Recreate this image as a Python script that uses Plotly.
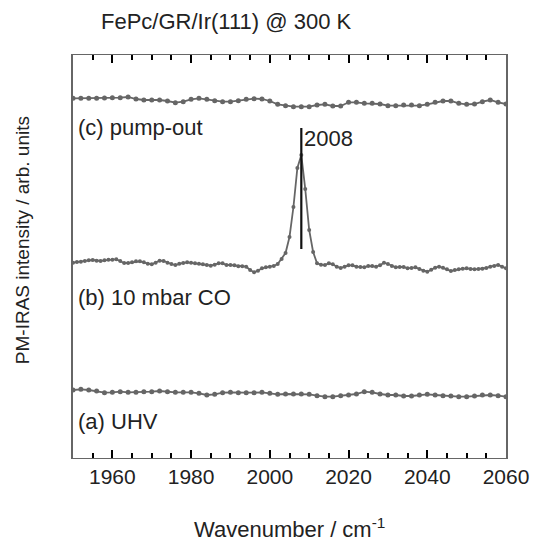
import plotly.graph_objects as go

# Wavenumber grids (cm^-1)
wn_coarse = list(range(1950, 2061, 2))
wn_fine = list(range(1950, 2061, 1))

# (a) UHV
uhv = [8, 8.7, 8, 7, 5.3, 5.7, 6.3, 5.7, 5.7, 6.3, 6.3, 7, 6.3, 5.7, 5.7, 5.7, 4.7, 3, 3.7, 5.3,
       5.7, 5.3, 5.3, 5.3, 5.7, 4.7, 3.7, 4, 4, 4, 3.7, 2.3, 1.3, 1.3, 2.3, 3, 4, 6.3,
       5.7, 4, 3, 3, 2, 2, 3, 3.7, 3, 2.3, 2, 1.3, 1.3, 2, 3, 3, 2.3, 1.3]

# (b) 10 mbar CO
co_10mbar = [5.3, 6, 6.3, 7, 7.7, 8, 7.3, 7, 7.7, 8.3, 8.3, 8.7, 7, 5, 5, 5.7, 6.7, 6.7, 5.7, 4.3,
             3.7, 5.3, 7.3, 7, 5.3, 4, 3, 4.3, 5, 5.7, 5.3, 4.7, 4.3, 3.7, 3, 2.3, 3.3, 4.7, 4.7, 3,
             3, 2.7, 1.7, 1.7, 1.3, -2, -4.3, -2.7, -0.3, 0.7, 1.3, 2, 4, 9,
             15, 31, 61, 100, 113, 79, 38, 16,
             4.7, 3.3, 3, 4.7, 3.7, 1.3, 0, 1.3, 2.7, 2.7, 1.3, 1, 0.7, 2, 2, 1.3, 2.7, 5.3, 4, 2,
             0.7, 1, 1, -0.3, 0, 0.7, -1, -2.7, -3.7, -1.7, 0.3, 1.3, 0.3, -1.3, -3, -2, -1.3, -0.7,
             -0.3, -1, -1.3, -1, -0.7, 0, 1.3, 2, 3, 1.3, -0.3]

# (c) pump-out
pump_out = [9.7, 9.7, 9.7, 9.7, 10, 10.3, 10.3, 11, 9, 8, 8, 8, 7, 5.3, 6.3, 8.7, 9.7, 8.7, 7.3, 6.3,
            6.3, 7.3, 8.7, 9.3, 9, 7, 3.7, 2.3, 1.3, 1.3, 1.3, 3, 3.7, 2, 2, 5.7, 5.7, 4.7, 4.7, 4,
            2.3, 2.3, 3, 3, 2.3, 3.7, 5.7, 7, 7, 4.7, 3.7, 4, 6.3, 8, 5.7, 4]

# vertical stacking offsets
offsets = {"a": 60, "b": 190, "c": 350}

peak_pos = 2008
peak_marker_range = [209, 330]

labels = {"a": "(a) UHV", "b": "(b) 10 mbar CO", "c": "(c) pump-out"}
label_y = {"a": 37, "b": 161, "c": 331}

x_range = [1950, 2060]
y_range = [0, 403]

trace_color = "#666666"
text_color = "#222222"
tick_color = "#000000"
frame_color = "#666666"
font_family = "Liberation Sans, Arial, sans-serif"

fig = go.Figure()


def add_spectrum(x, y, off, size):
    fig.add_trace(go.Scatter(
        x=x, y=[v + off for v in y], mode="lines+markers",
        line=dict(color=trace_color, width=1.8),
        marker=dict(color=trace_color, size=size),
        showlegend=False, hoverinfo="skip"))


add_spectrum(wn_coarse, uhv, offsets["a"], 5)
add_spectrum(wn_fine, co_10mbar, offsets["b"], 4)
add_spectrum(wn_coarse, pump_out, offsets["c"], 5)

# peak position marker
fig.add_trace(go.Scatter(
    x=[peak_pos, peak_pos], y=peak_marker_range, mode="lines",
    line=dict(color="#111111", width=2.2), showlegend=False, hoverinfo="skip"))

fig.add_annotation(x=peak_pos + 0.3, y=peak_marker_range[1] - 10, xref="x", yref="y",
                   text=str(peak_pos), showarrow=False, xanchor="left", yanchor="middle",
                   font=dict(size=22, color=text_color, family=font_family))

for k in ("a", "b", "c"):
    fig.add_annotation(x=1950.8, y=label_y[k], xref="x", yref="y", text=labels[k],
                       showarrow=False, xanchor="left", yanchor="middle",
                       font=dict(size=22, color=text_color, family=font_family))

# title and axis titles
fig.add_annotation(x=0.061, y=1.082, xref="paper", yref="paper",
                   text="FePc/GR/Ir(111) @ 300 K", showarrow=False,
                   xanchor="left", yanchor="middle",
                   font=dict(size=22, color=text_color, family=font_family))
fig.add_annotation(x=0.5, y=-0.174, xref="paper", yref="paper",
                   text="Wavenumber / cm<sup>-1</sup>", showarrow=False,
                   xanchor="center", yanchor="middle",
                   font=dict(size=22, color=text_color, family=font_family))
fig.add_annotation(x=-0.115, y=0.541, xref="paper", yref="paper",
                   text="PM-IRAS intensity / arb. units", showarrow=False, textangle=-90,
                   xanchor="center", yanchor="middle",
                   font=dict(size=19, color=text_color, family=font_family))

fig.update_layout(
    width=541, height=546, margin=dict(l=73, r=26, t=55, b=88),
    plot_bgcolor="white", paper_bgcolor="white",
    xaxis=dict(range=x_range, dtick=20, ticks="inside", ticklen=8, tickwidth=2,
               tickcolor=tick_color,
               minor=dict(dtick=5, ticks="inside", ticklen=5, tickwidth=1.5,
                          tickcolor=tick_color),
               showline=True, linecolor=frame_color, linewidth=1,
               mirror="ticks", showgrid=False, zeroline=False,
               tickfont=dict(size=21, color=text_color, family=font_family)),
    yaxis=dict(range=y_range, showticklabels=False, ticks="", showline=True,
               linecolor=frame_color, linewidth=1.5, mirror=True,
               showgrid=False, zeroline=False),
)

fig.write_html("out.html")
